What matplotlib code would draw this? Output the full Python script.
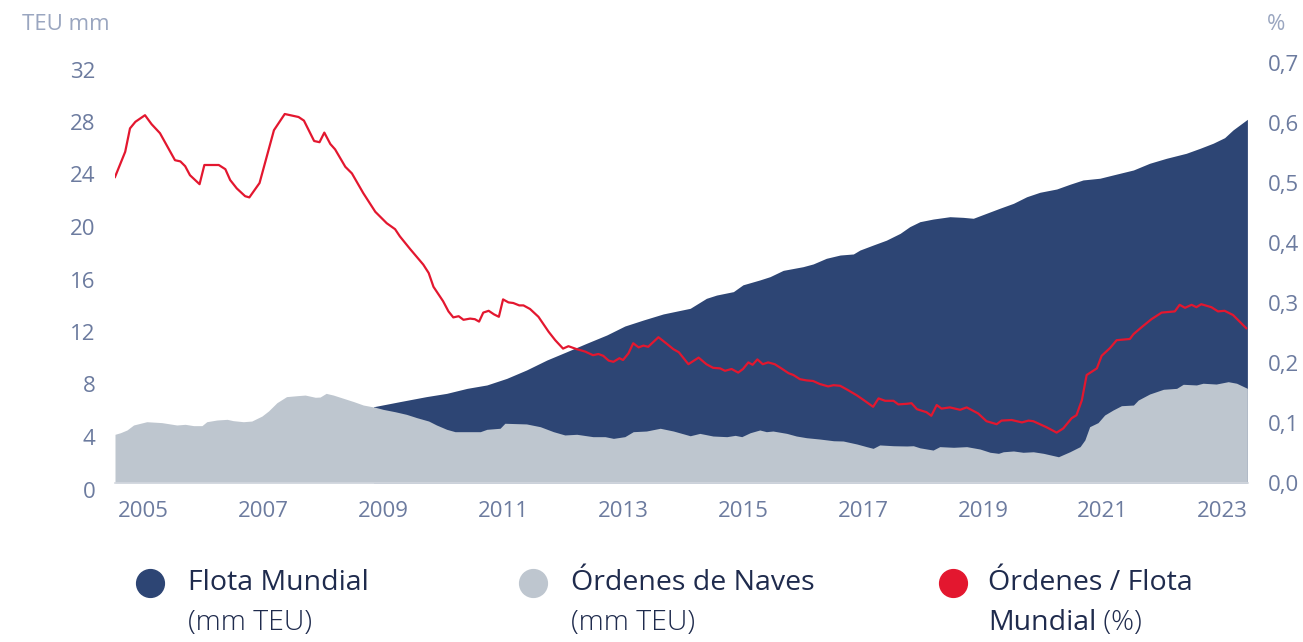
import matplotlib
matplotlib.use("Agg")
import matplotlib.pyplot as plt
import matplotlib.transforms as mtransforms
from matplotlib.ticker import FuncFormatter

plt.rcParams['font.family'] = ['Open Sans', 'DejaVu Sans']

# Flota mundial (mm TEU)
fleet_x = [2008.84, 2009.28, 2009.72, 2010.06, 2010.40, 2010.73, 2011.06, 2011.39,
           2011.73, 2012.06, 2012.39, 2012.73, 2013.03, 2013.34, 2013.67, 2014.12,
           2014.39, 2014.56, 2014.84, 2015.00, 2015.28, 2015.45, 2015.67, 2016.00,
           2016.17, 2016.39, 2016.62, 2016.84, 2016.95, 2017.17, 2017.39, 2017.62,
           2017.78, 2017.95, 2018.17, 2018.45, 2018.67, 2018.84, 2019.06, 2019.28,
           2019.51, 2019.73, 2019.95, 2020.23, 2020.45, 2020.67, 2020.95, 2021.17,
           2021.51, 2021.78, 2022.06, 2022.39, 2022.62, 2022.84, 2023.03, 2023.17,
           2023.41]
fleet_y = [5.81, 6.20, 6.58, 6.83, 7.21, 7.47, 7.97, 8.61,
           9.37, 10.00, 10.64, 11.28, 11.96, 12.42, 12.88, 13.31,
           14.07, 14.32, 14.58, 15.10, 15.47, 15.72, 16.20, 16.48,
           16.69, 17.12, 17.37, 17.45, 17.75, 18.13, 18.50, 19.02,
           19.53, 19.91, 20.11, 20.29, 20.24, 20.17, 20.55, 20.93,
           21.31, 21.81, 22.15, 22.40, 22.76, 23.09, 23.22, 23.47,
           23.85, 24.36, 24.74, 25.12, 25.50, 25.89, 26.31, 26.90,
           27.71]

# Ordenes de naves (mm TEU)
orders_x = [2004.53, 2004.62, 2004.73, 2004.84, 2005.06, 2005.31, 2005.56, 2005.70,
            2005.84, 2005.98, 2006.06, 2006.23, 2006.40, 2006.50, 2006.67, 2006.81,
            2006.98, 2007.09, 2007.23, 2007.39, 2007.56, 2007.70, 2007.87, 2007.95,
            2008.05, 2008.17, 2008.34, 2008.51, 2008.67, 2008.87, 2009.00, 2009.20,
            2009.39, 2009.56, 2009.76, 2009.89, 2010.06, 2010.20, 2010.40, 2010.62,
            2010.73, 2010.95, 2011.03, 2011.39, 2011.62, 2011.84, 2012.03, 2012.23,
            2012.50, 2012.70, 2012.84, 2013.03, 2013.17, 2013.39, 2013.62, 2013.84,
            2014.12, 2014.28, 2014.50, 2014.73, 2014.87, 2014.98, 2015.12, 2015.28,
            2015.39, 2015.50, 2015.73, 2015.89, 2016.06, 2016.28, 2016.51, 2016.67,
            2016.90, 2017.06, 2017.17, 2017.28, 2017.51, 2017.73, 2017.84, 2017.95,
            2018.17, 2018.28, 2018.51, 2018.73, 2018.95, 2019.12, 2019.26, 2019.34,
            2019.51, 2019.67, 2019.84, 2020.01, 2020.26, 2020.45, 2020.62, 2020.70,
            2020.78, 2020.92, 2021.03, 2021.17, 2021.31, 2021.51, 2021.59, 2021.78,
            2022.01, 2022.23, 2022.34, 2022.56, 2022.67, 2022.89, 2023.09, 2023.23,
            2023.41]
orders_y = [3.71, 3.83, 4.04, 4.42, 4.67, 4.60, 4.42, 4.47,
            4.37, 4.37, 4.67, 4.80, 4.85, 4.75, 4.67, 4.72,
            5.10, 5.49, 6.12, 6.58, 6.65, 6.70, 6.53, 6.55,
            6.83, 6.70, 6.45, 6.20, 5.94, 5.77, 5.61, 5.43,
            5.23, 4.98, 4.72, 4.42, 4.09, 3.91, 3.91, 3.91,
            4.09, 4.17, 4.55, 4.50, 4.29, 3.91, 3.66, 3.71,
            3.53, 3.53, 3.40, 3.53, 3.91, 3.96, 4.17, 3.96,
            3.60, 3.78, 3.58, 3.53, 3.63, 3.53, 3.83, 4.04,
            3.91, 3.96, 3.78, 3.58, 3.45, 3.35, 3.22, 3.20,
            2.97, 2.77, 2.64, 2.90, 2.84, 2.82, 2.84, 2.68,
            2.51, 2.77, 2.72, 2.77, 2.59, 2.34, 2.26, 2.38,
            2.44, 2.34, 2.38, 2.26, 2.00, 2.38, 2.77, 3.28,
            4.29, 4.60, 5.18, 5.56, 5.89, 5.94, 6.32, 6.78,
            7.14, 7.21, 7.52, 7.47, 7.60, 7.54, 7.72, 7.60,
            7.21]

# Ordenes / Flota mundial (%)
ratio_x = [2004.53, 2004.70, 2004.78, 2004.87, 2005.03, 2005.14, 2005.28, 2005.42,
           2005.53, 2005.62, 2005.70, 2005.78, 2005.94, 2006.02, 2006.26, 2006.37,
           2006.45, 2006.56, 2006.70, 2006.77, 2006.94, 2007.06, 2007.18, 2007.36,
           2007.59, 2007.68, 2007.77, 2007.85, 2007.94, 2008.02, 2008.12, 2008.20,
           2008.37, 2008.48, 2008.67, 2008.87, 2009.06, 2009.20, 2009.28, 2009.45,
           2009.67, 2009.76, 2009.84, 2010.00, 2010.09, 2010.17, 2010.26, 2010.34,
           2010.45, 2010.53, 2010.60, 2010.67, 2010.76, 2010.85, 2010.93, 2011.00,
           2011.09, 2011.17, 2011.27, 2011.34, 2011.45, 2011.59, 2011.76, 2011.87,
           2012.00, 2012.09, 2012.23, 2012.37, 2012.50, 2012.59, 2012.67, 2012.76,
           2012.84, 2012.94, 2013.00, 2013.09, 2013.17, 2013.26, 2013.34, 2013.42,
           2013.59, 2013.73, 2013.84, 2013.93, 2014.09, 2014.26, 2014.39, 2014.50,
           2014.62, 2014.70, 2014.81, 2014.92, 2015.00, 2015.09, 2015.16, 2015.24,
           2015.33, 2015.42, 2015.53, 2015.64, 2015.76, 2015.84, 2015.95, 2016.06,
           2016.17, 2016.28, 2016.42, 2016.51, 2016.62, 2016.73, 2016.90, 2017.03,
           2017.17, 2017.26, 2017.37, 2017.51, 2017.59, 2017.73, 2017.81, 2017.90,
           2018.06, 2018.14, 2018.23, 2018.31, 2018.45, 2018.62, 2018.73, 2018.92,
           2019.06, 2019.23, 2019.31, 2019.48, 2019.65, 2019.76, 2019.84, 2020.06,
           2020.23, 2020.34, 2020.48, 2020.56, 2020.65, 2020.73, 2020.90, 2020.98,
           2021.12, 2021.23, 2021.45, 2021.51, 2021.65, 2021.81, 2021.98, 2022.20,
           2022.28, 2022.37, 2022.48, 2022.56, 2022.64, 2022.81, 2022.92, 2023.03,
           2023.17, 2023.28, 2023.39]
ratio_y = [0.510, 0.552, 0.591, 0.602, 0.613, 0.598, 0.583, 0.558,
           0.538, 0.536, 0.528, 0.513, 0.498, 0.530, 0.530, 0.523,
           0.505, 0.491, 0.478, 0.476, 0.500, 0.544, 0.588, 0.615,
           0.610, 0.604, 0.586, 0.570, 0.568, 0.584, 0.565, 0.556,
           0.527, 0.516, 0.483, 0.452, 0.433, 0.423, 0.411, 0.390,
           0.364, 0.350, 0.327, 0.303, 0.286, 0.276, 0.278, 0.272,
           0.274, 0.273, 0.269, 0.284, 0.287, 0.281, 0.277, 0.306,
           0.301, 0.300, 0.296, 0.296, 0.290, 0.277, 0.252, 0.238,
           0.224, 0.228, 0.223, 0.219, 0.213, 0.215, 0.212, 0.204,
           0.202, 0.208, 0.205, 0.216, 0.233, 0.226, 0.229, 0.227,
           0.243, 0.232, 0.223, 0.218, 0.198, 0.209, 0.198, 0.192,
           0.191, 0.187, 0.190, 0.184, 0.190, 0.201, 0.197, 0.206,
           0.198, 0.201, 0.198, 0.191, 0.183, 0.180, 0.173, 0.171,
           0.170, 0.165, 0.161, 0.163, 0.162, 0.156, 0.146, 0.137,
           0.127, 0.141, 0.137, 0.137, 0.131, 0.132, 0.133, 0.123,
           0.118, 0.112, 0.130, 0.124, 0.126, 0.122, 0.126, 0.116,
           0.103, 0.098, 0.104, 0.105, 0.101, 0.104, 0.103, 0.093,
           0.084, 0.091, 0.108, 0.113, 0.138, 0.180, 0.191, 0.212,
           0.225, 0.238, 0.240, 0.248, 0.260, 0.273, 0.284, 0.286,
           0.297, 0.292, 0.297, 0.293, 0.298, 0.293, 0.286, 0.287,
           0.280, 0.269, 0.258]

years = [2005, 2007, 2009, 2011, 2013, 2015, 2017, 2019, 2021, 2023]
left_ticks = [0, 4, 8, 12, 16, 20, 24, 28, 32]
right_ticks = [0.0, 0.1, 0.2, 0.3, 0.4, 0.5, 0.6, 0.7]

NAVY = '#2d4574'
GREY = '#bec6cf'
RED = '#e3172f'
TICK = '#6c7b9f'
LIGHT = '#9aa6c0'
DARK = '#1f2b4d'

fig = plt.figure(figsize=(13.03, 6.42), dpi=100)
ax = fig.add_axes([115 / 1303, 159 / 642, 1133 / 1303, 420 / 642])
ax2 = ax.twinx()

ax.fill_between(fleet_x, 0, fleet_y, color=NAVY, lw=0, zorder=1)
ax.fill_between(orders_x, 0, orders_y, color=GREY, lw=0, zorder=2)
ax2.plot(ratio_x, ratio_y, color=RED, lw=1.6, zorder=3)

ax.set_xlim(2004.53, 2023.42)
ax.set_ylim(0, 32)
ax2.set_ylim(0, 0.7)
ax.set_xticks(years)
ax.set_yticks(left_ticks)
ax2.set_yticks(right_ticks)
ax2.yaxis.set_major_formatter(FuncFormatter(lambda v, p: f"{v:.1f}".replace('.', ',')))

for a in (ax, ax2):
    for s in a.spines.values():
        s.set_visible(False)
ax.spines['bottom'].set_visible(True)
ax.spines['bottom'].set_color('#d3d8df')
ax.spines['bottom'].set_linewidth(1.2)

ax.tick_params(axis='x', length=0, pad=13, labelsize=16, colors=TICK)
ax.tick_params(axis='y', length=0, pad=14, labelsize=16, colors=TICK)
ax2.tick_params(axis='y', length=0, pad=14, labelsize=16, colors=TICK)

# left labels sit a bit lower than their values in the original
shift = mtransforms.ScaledTranslation(0, -6.5 / 100, fig.dpi_scale_trans)
for lbl in ax.yaxis.get_majorticklabels():
    lbl.set_transform(lbl.get_transform() + shift)

fig.text(22 / 1303, 1 - 24 / 642, 'TEU mm', fontsize=16, color=LIGHT, va='center', ha='left')
fig.text(1267 / 1303, 1 - 24 / 642, '%', fontsize=16, color=LIGHT, va='center', ha='left')

# leyenda manual
lax = fig.add_axes([0, 0, 1, 1], zorder=-1)
lax.set_xlim(0, 1303)
lax.set_ylim(642, 0)
lax.axis('off')

entries = [(150, 188, NAVY, 'Flota Mundial', '(mm TEU)', ''),
           (533, 571, GREY, 'Órdenes de Naves', '(mm TEU)', ''),
           (953, 988, RED, 'Órdenes / Flota', 'Mundial', ' (%)')]
for mx, tx, col, l1, l2, l3 in entries:
    lax.plot(mx, 583, 'o', ms=20, color=col, mec=col)
    lax.text(tx, 583, l1, fontsize=20.5, color=DARK, va='center', ha='left')
    t2 = lax.text(tx, 623, l2, fontsize=20.5, color=DARK, va='center', ha='left',
                  fontweight='light' if l2.startswith('(') else 'normal')
    if l3:
        lax.annotate(l3, xy=(1, 0.5), xycoords=t2, va='center', ha='left',
                     fontsize=20.5, color=DARK, fontweight='light')

fig.savefig('out.png', dpi=100)
